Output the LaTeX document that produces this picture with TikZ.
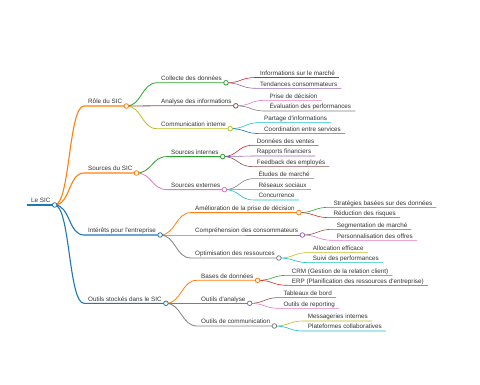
\documentclass[tikz,border=0pt]{standalone}
\usepackage{fontspec}
\usepackage{xcolor}
\usepackage{tikz}
\newfontfamily\mapfont{Liberation Sans}
\definecolor{mblue}{HTML}{1F77B4}
\definecolor{morange}{HTML}{FF7F0E}
\definecolor{mgreen}{HTML}{2CA02C}
\definecolor{mred}{HTML}{D62728}
\definecolor{mpurple}{HTML}{9467BD}
\definecolor{mbrown}{HTML}{8C564B}
\definecolor{mpink}{HTML}{E377C2}
\definecolor{mgray}{HTML}{7F7F7F}
\definecolor{molive}{HTML}{BCBD22}
\definecolor{mcyan}{HTML}{17BECF}
\definecolor{txt}{HTML}{333333}
% parent, name, x, y, colour and width, text
\newcommand{\branch}[6]{%
  \node[topic] (#2) at (#3,#4) {#6};
  \draw[#5] (#1.south east) .. controls +(15.5,0) and +(-15.5,0) .. (#2.south west) -- (#2.south east);}

\begin{document}
\begin{tikzpicture}[x=1pt,y=-1pt,
  topic/.style={anchor=south west,inner xsep=4pt,inner ysep=0.6pt,text height=4.6pt,
    text depth=1.4pt,text=txt,font={\mapfont\fontsize{6.3}{7}\selectfont}},
  lvlone/.style={line width=1.1pt},
  lvltwo/.style={line width=0.8pt},
  leaf/.style={line width=0.6pt},
  knob/.style={fill=white,line width=0.8pt}]
  \useasboundingbox (0,0) rectangle (480,384);
  % root
  \node[topic] (root) at (27,205) {Le SIC};
  \draw[mblue,line width=1.3pt] (root.south west) -- (root.south east);
  % main branches
  \branch{root}{role}{84}{106}{morange,lvlone}{Rôle du SIC}
  \branch{root}{sources}{84}{173}{morange,lvlone}{Sources du SIC}
  \branch{root}{interets}{84}{235}{mblue,lvlone}{Intérêts pour l'entreprise}
  \branch{root}{outils}{84}{303.3}{mblue,lvlone}{Outils stockés dans le SIC}
  % second level
  \branch{role}{collecte}{157}{82.8}{mgreen,lvltwo}{Collecte des données}
  \branch{role}{analyse}{157}{105.8}{mbrown,lvltwo}{Analyse des informations}
  \branch{role}{comint}{157}{128.7}{molive,lvltwo}{Communication interne}
  \branch{sources}{srcint}{167}{156.6}{mgreen,lvltwo}{Sources internes}
  \branch{sources}{srcext}{167}{189.6}{mpink,lvltwo}{Sources externes}
  \branch{interets}{amelio}{191}{212.6}{morange,lvltwo}{Amélioration de la prise de décision}
  \branch{interets}{compr}{191}{235}{mpurple,lvltwo}{Compréhension des consommateurs}
  \branch{interets}{optim}{191}{258}{mgray,lvltwo}{Optimisation des ressources}
  \branch{outils}{bases}{197}{280.3}{morange,lvltwo}{Bases de données}
  \branch{outils}{outana}{197}{303.3}{mpurple,lvltwo}{Outils d'analyse}
  \branch{outils}{outcom}{197}{326}{mgray,lvltwo}{Outils de communication}
  % leaves
  \branch{collecte}{marche}{256}{77.5}{mred,leaf}{Informations sur le marché}
  \branch{collecte}{tendances}{256}{88.3}{mpurple,leaf}{Tendances consommateurs}
  \branch{analyse}{decision}{265.3}{100.3}{mpink,leaf}{Prise de décision}
  \branch{analyse}{evaluation}{265.3}{111}{mgray,leaf}{Évaluation des performances}
  \branch{comint}{partage}{260}{122.6}{mcyan,leaf}{Partage d'informations}
  \branch{comint}{coord}{260}{133.6}{mblue,leaf}{Coordination entre services}
  \branch{srcint}{ventes}{252.7}{145.3}{mred,leaf}{Données des ventes}
  \branch{srcint}{rapports}{252.7}{156}{mpurple,leaf}{Rapports financiers}
  \branch{srcint}{feedback}{252.7}{166.6}{mbrown,leaf}{Feedback des employés}
  \branch{srcext}{etudes}{254.3}{178.6}{mgray,leaf}{Études de marché}
  \branch{srcext}{reseaux}{254.3}{189.6}{molive,leaf}{Réseaux sociaux}
  \branch{srcext}{concur}{254.3}{200}{mcyan,leaf}{Concurrence}
  \branch{amelio}{strat}{329.3}{207.3}{mgreen,leaf}{Stratégies basées sur des données}
  \branch{amelio}{risques}{329.3}{217.6}{mred,leaf}{Réduction des risques}
  \branch{compr}{segment}{332.7}{229.3}{mbrown,leaf}{Segmentation de marché}
  \branch{compr}{perso}{332.7}{240.3}{mpink,leaf}{Personnalisation des offres}
  \branch{optim}{alloc}{308.7}{252.6}{molive,leaf}{Allocation efficace}
  \branch{optim}{suivi}{308.7}{262.6}{mcyan,leaf}{Suivi des performances}
  \branch{bases}{crm}{287.7}{275.3}{mgreen,leaf}{CRM (Gestion de la relation client)}
  \branch{bases}{erp}{287.7}{285.3}{mred,leaf}{ERP (Planification des ressources d'entreprise)}
  \branch{outana}{tableaux}{279.3}{297.6}{mbrown,leaf}{Tableaux de bord}
  \branch{outana}{reporting}{279.3}{308.3}{mpink,leaf}{Outils de reporting}
  \branch{outcom}{messag}{303.7}{321}{molive,leaf}{Messageries internes}
  \branch{outcom}{plateformes}{303.7}{331}{mcyan,leaf}{Plateformes collaboratives}
  % knobs on the inner nodes
  \foreach \nm/\cc in {root/mblue,role/morange,sources/morange,interets/mblue,outils/mblue,
      collecte/mgreen,analyse/mbrown,comint/molive,srcint/mgreen,srcext/mpink,
      amelio/morange,compr/mpurple,optim/mgray,bases/morange,outana/mpurple,outcom/mgray}
    \draw[knob,draw=\cc] (\nm.south east) circle (2.3pt);
\end{tikzpicture}
\end{document}
